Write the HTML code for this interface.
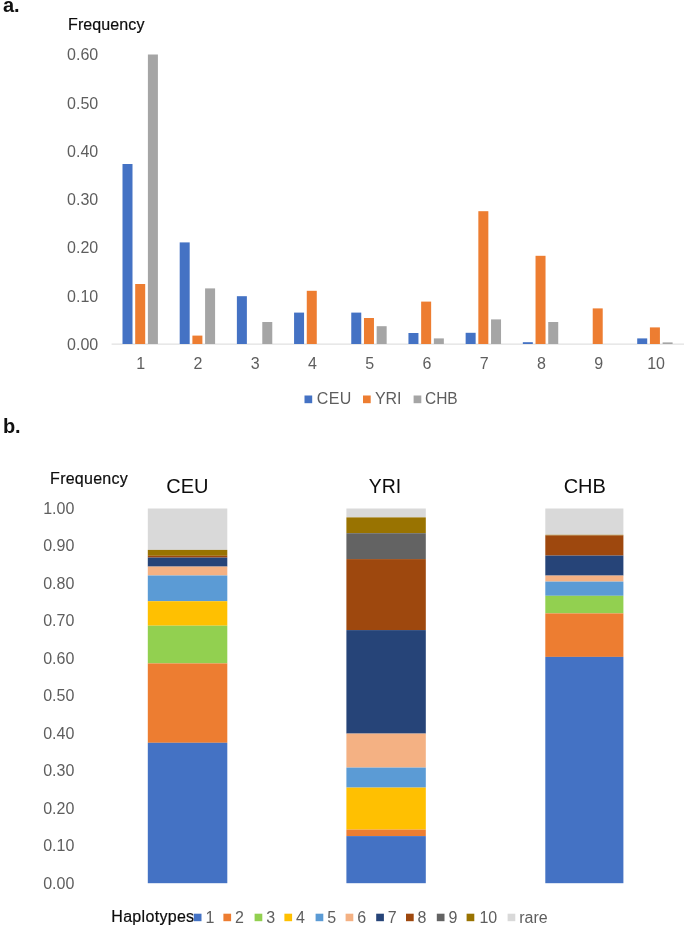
<!DOCTYPE html><html><head><meta charset="utf-8"><title>Figure</title>
<style>html,body{margin:0;padding:0;background:#fff}svg{display:block;will-change:transform;opacity:0.999}text{font-family:"Liberation Sans",sans-serif}</style></head><body>
<svg width="685" height="937" viewBox="0 0 685 937">
<rect width="685" height="937" fill="#fff"/>
<text x="2.9" y="11.6" font-size="20" fill="#111" text-anchor="start" font-weight="bold" >a.</text>
<text x="68.0" y="30.4" font-size="16" fill="#0d0d0d" text-anchor="start" font-weight="normal" textLength="76.4" stroke="#0d0d0d" stroke-width="0.2">Frequency</text>
<text x="98.2" y="349.8" font-size="16" fill="#5e5e5e" text-anchor="end" font-weight="normal" >0.00</text>
<text x="98.2" y="301.55" font-size="16" fill="#5e5e5e" text-anchor="end" font-weight="normal" >0.10</text>
<text x="98.2" y="253.3" font-size="16" fill="#5e5e5e" text-anchor="end" font-weight="normal" >0.20</text>
<text x="98.2" y="205.05" font-size="16" fill="#5e5e5e" text-anchor="end" font-weight="normal" >0.30</text>
<text x="98.2" y="156.8" font-size="16" fill="#5e5e5e" text-anchor="end" font-weight="normal" >0.40</text>
<text x="98.2" y="108.55" font-size="16" fill="#5e5e5e" text-anchor="end" font-weight="normal" >0.50</text>
<text x="98.2" y="60.3" font-size="16" fill="#5e5e5e" text-anchor="end" font-weight="normal" >0.60</text>
<line x1="111.6" y1="344.1" x2="684" y2="344.1" stroke="#d9d9d9" stroke-width="1"/>
<rect x="122.50" y="164.00" width="10.00" height="180.00" fill="#4472c4"/>
<rect x="135.20" y="284.00" width="10.00" height="60.00" fill="#ed7d31"/>
<rect x="147.90" y="54.50" width="10.00" height="289.50" fill="#a5a5a5"/>
<text x="140.595" y="369.2" font-size="16" fill="#5e5e5e" text-anchor="middle" font-weight="normal" >1</text>
<rect x="179.69" y="242.40" width="10.00" height="101.60" fill="#4472c4"/>
<rect x="192.39" y="335.60" width="10.00" height="8.40" fill="#ed7d31"/>
<rect x="205.09" y="288.40" width="10.00" height="55.60" fill="#a5a5a5"/>
<text x="197.865" y="369.2" font-size="16" fill="#5e5e5e" text-anchor="middle" font-weight="normal" >2</text>
<rect x="236.88" y="296.20" width="10.00" height="47.80" fill="#4472c4"/>
<rect x="262.28" y="322.00" width="10.00" height="22.00" fill="#a5a5a5"/>
<text x="255.135" y="369.2" font-size="16" fill="#5e5e5e" text-anchor="middle" font-weight="normal" >3</text>
<rect x="294.07" y="312.60" width="10.00" height="31.40" fill="#4472c4"/>
<rect x="306.77" y="290.80" width="10.00" height="53.20" fill="#ed7d31"/>
<text x="312.405" y="369.2" font-size="16" fill="#5e5e5e" text-anchor="middle" font-weight="normal" >4</text>
<rect x="351.26" y="312.60" width="10.00" height="31.40" fill="#4472c4"/>
<rect x="363.96" y="318.00" width="10.00" height="26.00" fill="#ed7d31"/>
<rect x="376.66" y="326.20" width="10.00" height="17.80" fill="#a5a5a5"/>
<text x="369.675" y="369.2" font-size="16" fill="#5e5e5e" text-anchor="middle" font-weight="normal" >5</text>
<rect x="408.45" y="333.00" width="10.00" height="11.00" fill="#4472c4"/>
<rect x="421.15" y="301.60" width="10.00" height="42.40" fill="#ed7d31"/>
<rect x="433.85" y="338.40" width="10.00" height="5.60" fill="#a5a5a5"/>
<text x="426.94499999999994" y="369.2" font-size="16" fill="#5e5e5e" text-anchor="middle" font-weight="normal" >6</text>
<rect x="465.64" y="332.80" width="10.00" height="11.20" fill="#4472c4"/>
<rect x="478.34" y="211.20" width="10.00" height="132.80" fill="#ed7d31"/>
<rect x="491.04" y="319.40" width="10.00" height="24.60" fill="#a5a5a5"/>
<text x="484.21500000000003" y="369.2" font-size="16" fill="#5e5e5e" text-anchor="middle" font-weight="normal" >7</text>
<rect x="522.83" y="342.20" width="10.00" height="1.80" fill="#4472c4"/>
<rect x="535.53" y="255.80" width="10.00" height="88.20" fill="#ed7d31"/>
<rect x="548.23" y="322.00" width="10.00" height="22.00" fill="#a5a5a5"/>
<text x="541.4849999999999" y="369.2" font-size="16" fill="#5e5e5e" text-anchor="middle" font-weight="normal" >8</text>
<rect x="592.72" y="308.40" width="10.00" height="35.60" fill="#ed7d31"/>
<text x="598.755" y="369.2" font-size="16" fill="#5e5e5e" text-anchor="middle" font-weight="normal" >9</text>
<rect x="637.21" y="338.40" width="10.00" height="5.60" fill="#4472c4"/>
<rect x="649.91" y="327.40" width="10.00" height="16.60" fill="#ed7d31"/>
<rect x="662.61" y="342.40" width="10.00" height="1.60" fill="#a5a5a5"/>
<text x="656.0250000000001" y="369.2" font-size="16" fill="#5e5e5e" text-anchor="middle" font-weight="normal" >10</text>
<rect x="304.50" y="395.50" width="7.70" height="7.70" fill="#4472c4"/>
<text x="316.7" y="404" font-size="16" fill="#5e5e5e" text-anchor="start" font-weight="normal" textLength="34.7">CEU</text>
<rect x="363.00" y="395.50" width="7.70" height="7.70" fill="#ed7d31"/>
<text x="374.9" y="404" font-size="16" fill="#5e5e5e" text-anchor="start" font-weight="normal" >YRI</text>
<rect x="413.60" y="395.50" width="7.70" height="7.70" fill="#a5a5a5"/>
<text x="425.0" y="404" font-size="16" fill="#5e5e5e" text-anchor="start" font-weight="normal" textLength="32.7" lengthAdjust="spacingAndGlyphs">CHB</text>
<text x="2.9" y="432.6" font-size="20" fill="#111" text-anchor="start" font-weight="bold" >b.</text>
<text x="50.1" y="483.5" font-size="16" fill="#0d0d0d" text-anchor="start" font-weight="normal" textLength="77.6" stroke="#0d0d0d" stroke-width="0.2">Frequency</text>
<text x="74.3" y="888.5" font-size="16" fill="#5e5e5e" text-anchor="end" font-weight="normal" >0.00</text>
<text x="74.3" y="851.04" font-size="16" fill="#5e5e5e" text-anchor="end" font-weight="normal" >0.10</text>
<text x="74.3" y="813.58" font-size="16" fill="#5e5e5e" text-anchor="end" font-weight="normal" >0.20</text>
<text x="74.3" y="776.12" font-size="16" fill="#5e5e5e" text-anchor="end" font-weight="normal" >0.30</text>
<text x="74.3" y="738.66" font-size="16" fill="#5e5e5e" text-anchor="end" font-weight="normal" >0.40</text>
<text x="74.3" y="701.2" font-size="16" fill="#5e5e5e" text-anchor="end" font-weight="normal" >0.50</text>
<text x="74.3" y="663.74" font-size="16" fill="#5e5e5e" text-anchor="end" font-weight="normal" >0.60</text>
<text x="74.3" y="626.28" font-size="16" fill="#5e5e5e" text-anchor="end" font-weight="normal" >0.70</text>
<text x="74.3" y="588.8199999999999" font-size="16" fill="#5e5e5e" text-anchor="end" font-weight="normal" >0.80</text>
<text x="74.3" y="551.36" font-size="16" fill="#5e5e5e" text-anchor="end" font-weight="normal" >0.90</text>
<text x="74.3" y="513.9" font-size="16" fill="#5e5e5e" text-anchor="end" font-weight="normal" >1.00</text>
<rect x="147.80" y="508.50" width="79.50" height="41.40" fill="#d9d9d9"/>
<rect x="147.80" y="549.90" width="79.50" height="5.90" fill="#997300"/>
<rect x="147.80" y="555.80" width="79.50" height="1.80" fill="#9e480e"/>
<rect x="147.80" y="557.60" width="79.50" height="9.00" fill="#264478"/>
<rect x="147.80" y="566.60" width="79.50" height="8.90" fill="#f4b183"/>
<rect x="147.80" y="575.50" width="79.50" height="25.70" fill="#5b9bd5"/>
<rect x="147.80" y="601.20" width="79.50" height="24.50" fill="#ffc000"/>
<rect x="147.80" y="625.70" width="79.50" height="37.70" fill="#92d050"/>
<rect x="147.80" y="663.40" width="79.50" height="79.40" fill="#ed7d31"/>
<rect x="147.80" y="742.80" width="79.50" height="140.40" fill="#4472c4"/>
<rect x="346.40" y="508.50" width="79.40" height="8.90" fill="#d9d9d9"/>
<rect x="346.40" y="517.40" width="79.40" height="15.80" fill="#997300"/>
<rect x="346.40" y="533.20" width="79.40" height="25.90" fill="#636363"/>
<rect x="346.40" y="559.10" width="79.40" height="71.00" fill="#9e480e"/>
<rect x="346.40" y="630.10" width="79.40" height="103.50" fill="#264478"/>
<rect x="346.40" y="733.60" width="79.40" height="34.00" fill="#f4b183"/>
<rect x="346.40" y="767.60" width="79.40" height="20.00" fill="#5b9bd5"/>
<rect x="346.40" y="787.60" width="79.40" height="42.00" fill="#ffc000"/>
<rect x="346.40" y="829.60" width="79.40" height="6.50" fill="#ed7d31"/>
<rect x="346.40" y="836.10" width="79.40" height="47.10" fill="#4472c4"/>
<rect x="545.30" y="508.50" width="78.10" height="26.30" fill="#d9d9d9"/>
<rect x="545.30" y="534.80" width="78.10" height="0.60" fill="#997300"/>
<rect x="545.30" y="535.40" width="78.10" height="20.20" fill="#9e480e"/>
<rect x="545.30" y="555.60" width="78.10" height="20.00" fill="#264478"/>
<rect x="545.30" y="575.60" width="78.10" height="6.00" fill="#f4b183"/>
<rect x="545.30" y="581.60" width="78.10" height="14.20" fill="#5b9bd5"/>
<rect x="545.30" y="595.80" width="78.10" height="17.60" fill="#92d050"/>
<rect x="545.30" y="613.40" width="78.10" height="43.50" fill="#ed7d31"/>
<rect x="545.30" y="656.90" width="78.10" height="226.30" fill="#4472c4"/>
<text x="187.4" y="493.1" font-size="20" fill="#0d0d0d" text-anchor="middle" font-weight="normal" >CEU</text>
<text x="385.0" y="493.1" font-size="20" fill="#0d0d0d" text-anchor="middle" font-weight="normal" textLength="32.4" lengthAdjust="spacingAndGlyphs">YRI</text>
<text x="584.8" y="493.1" font-size="20" fill="#0d0d0d" text-anchor="middle" font-weight="normal" >CHB</text>
<text x="111.3" y="922.3" font-size="16" fill="#0d0d0d" text-anchor="start" font-weight="normal" textLength="82.8" stroke="#0d0d0d" stroke-width="0.2">Haplotypes</text>
<rect x="193.80" y="913.70" width="7.70" height="7.50" fill="#4472c4"/>
<text x="205.4" y="922.5" font-size="16" fill="#5e5e5e" text-anchor="start" font-weight="normal" >1</text>
<rect x="223.40" y="913.70" width="7.70" height="7.50" fill="#ed7d31"/>
<text x="235.0" y="922.5" font-size="16" fill="#5e5e5e" text-anchor="start" font-weight="normal" >2</text>
<rect x="254.60" y="913.70" width="7.70" height="7.50" fill="#92d050"/>
<text x="266.2" y="922.5" font-size="16" fill="#5e5e5e" text-anchor="start" font-weight="normal" >3</text>
<rect x="284.40" y="913.70" width="7.70" height="7.50" fill="#ffc000"/>
<text x="296.0" y="922.5" font-size="16" fill="#5e5e5e" text-anchor="start" font-weight="normal" >4</text>
<rect x="315.60" y="913.70" width="7.70" height="7.50" fill="#5b9bd5"/>
<text x="327.20000000000005" y="922.5" font-size="16" fill="#5e5e5e" text-anchor="start" font-weight="normal" >5</text>
<rect x="345.60" y="913.70" width="7.70" height="7.50" fill="#f4b183"/>
<text x="357.20000000000005" y="922.5" font-size="16" fill="#5e5e5e" text-anchor="start" font-weight="normal" >6</text>
<rect x="376.20" y="913.70" width="7.70" height="7.50" fill="#264478"/>
<text x="387.8" y="922.5" font-size="16" fill="#5e5e5e" text-anchor="start" font-weight="normal" >7</text>
<rect x="406.00" y="913.70" width="7.70" height="7.50" fill="#9e480e"/>
<text x="417.6" y="922.5" font-size="16" fill="#5e5e5e" text-anchor="start" font-weight="normal" >8</text>
<rect x="436.80" y="913.70" width="7.70" height="7.50" fill="#636363"/>
<text x="448.40000000000003" y="922.5" font-size="16" fill="#5e5e5e" text-anchor="start" font-weight="normal" >9</text>
<rect x="466.60" y="913.70" width="7.70" height="7.50" fill="#997300"/>
<text x="479.40000000000003" y="922.5" font-size="16" fill="#5e5e5e" text-anchor="start" font-weight="normal" >10</text>
<rect x="507.60" y="913.70" width="7.70" height="7.50" fill="#d9d9d9"/>
<text x="519.2" y="922.5" font-size="16" fill="#5e5e5e" text-anchor="start" font-weight="normal" >rare</text>
</svg></body></html>
